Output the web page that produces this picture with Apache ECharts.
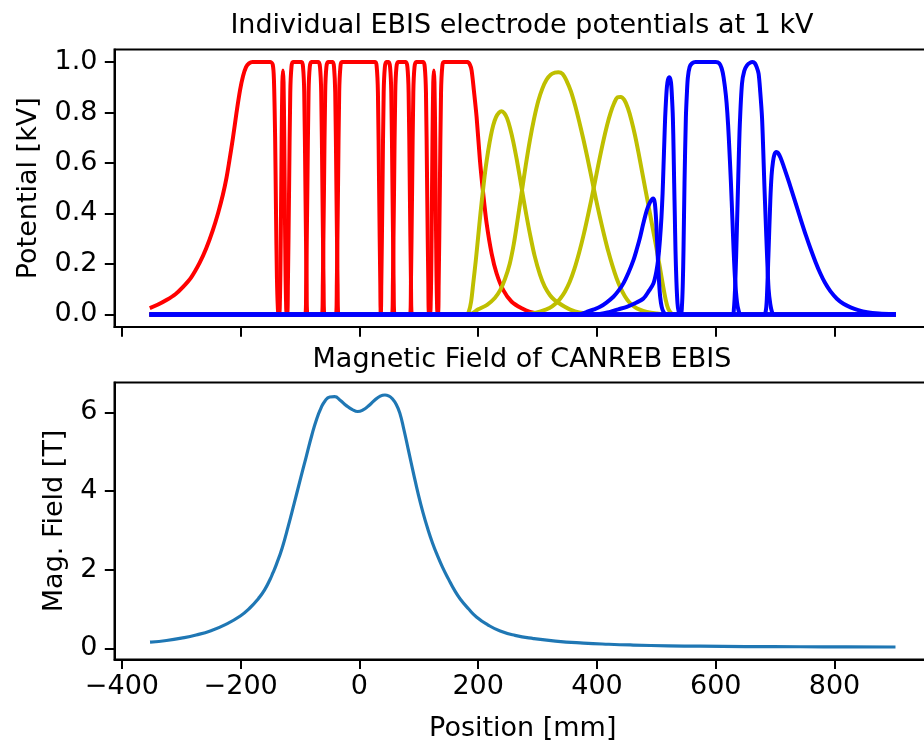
<!DOCTYPE html>
<html>
<head>
<meta charset="utf-8">
<script src="https://cdn.jsdelivr.net/npm/echarts@6/dist/echarts.min.js"></script>
<style>
html, body { margin: 0; padding: 0; background: #fff; }
#chart { width: 924px; height: 747px; }
</style>
</head>
<body>
<div id="chart"></div>
<script>
// electrode potentials: [position mm, potential kV]
var red1 = [[-350,0.028],[-340,0.038],[-325,0.057],[-310,0.08],[-297,0.109],[-283,0.148],[-269,0.205],[-258,0.262],[-247,0.333],[-238,0.402],[-230,0.474],[-224,0.54],[-219,0.61],[-213,0.7],[-207,0.8],[-201,0.89],[-196,0.945],[-191,0.98],[-186,0.995],[-180,1],[-150,1],[-146,0.99],[-144,0.93],[-142,0.7],[-140.5,0.4],[-139,0.15],[-137.5,0.03],[-136,0],[900,0]];
var red2 = [[-350,0],[-136,0],[-134,0.05],[-132.5,0.3],[-131,0.7],[-129.8,0.92],[-128.8,0.967],[-127.8,0.92],[-126.6,0.7],[-125.1,0.3],[-123.6,0.05],[-121.6,0],[900,0]];
var red3 = [[-350,0],[-122,0],[-120.5,0.12],[-118.5,0.5],[-116.5,0.88],[-114.5,0.98],[-112,1],[-97.5,1],[-95,0.98],[-93,0.88],[-91,0.5],[-89,0.12],[-87.5,0],[900,0]];
var red4 = [[-350,0],[-91.2,0],[-89.7,0.12],[-87.7,0.5],[-85.7,0.88],[-83.7,0.98],[-81,1],[-69,1],[-66.4,0.98],[-64.4,0.88],[-62.4,0.5],[-60.4,0.12],[-58.9,0],[900,0]];
var red5 = [[-350,0],[-63.2,0],[-61.7,0.12],[-59.7,0.5],[-57.7,0.88],[-55.7,0.98],[-53,1],[-45,1],[-42.8,0.98],[-40.8,0.88],[-38.8,0.5],[-36.8,0.12],[-35.3,0],[900,0]];
var red6 = [[-350,0],[-39.6,0],[-38.1,0.12],[-36.1,0.5],[-34.1,0.88],[-32.1,0.98],[-29.5,1],[26.5,1],[29.1,0.98],[31.1,0.88],[33.1,0.5],[35.1,0.12],[36.6,0],[900,0]];
var red7 = [[-350,0],[35.3,0],[36.8,0.12],[38.8,0.5],[40.8,0.88],[42.8,0.98],[45.2,1],[49.2,1],[51.6,0.98],[53.6,0.88],[55.6,0.5],[57.6,0.12],[59.1,0],[900,0]];
var red8 = [[-350,0],[54.8,0],[56.3,0.12],[58.3,0.5],[60.3,0.88],[62.3,0.98],[65,1],[78,1],[80.8,0.98],[82.8,0.88],[84.8,0.5],[86.8,0.12],[88.3,0],[900,0]];
var red9 = [[-350,0],[85.2,0],[86.7,0.12],[88.7,0.5],[90.7,0.88],[92.7,0.98],[95.5,1],[107.5,1],[110,0.98],[112,0.88],[114,0.5],[116,0.12],[117.5,0],[900,0]];
var red10 = [[-350,0],[118,0],[120,0.05],[121.5,0.3],[123,0.7],[124.3,0.92],[125.3,0.967],[126.3,0.92],[127.6,0.7],[129.1,0.3],[130.6,0.05],[132.6,0],[900,0]];
var red11 = [[-350,0],[131.9,0],[133.4,0.12],[135.4,0.5],[137.4,0.88],[139.4,0.98],[142,1],[182,1],[186,0.99],[188.9,0.967],[192.7,0.888],[197.3,0.782],[202.9,0.611],[208.4,0.479],[214.2,0.36],[222.6,0.241],[231,0.162],[242.2,0.096],[256.3,0.05],[273.2,0.024],[287.2,0.01],[305,0.002],[320,0],[900,0]];

var yel1 = [[-350,0],[180,0],[184,0.01],[188,0.05],[191.6,0.123],[196,0.215],[200,0.31],[204,0.405],[208.4,0.5],[212.5,0.58],[216.9,0.65],[221,0.705],[225.3,0.75],[230,0.782],[235,0.8],[239.5,0.805],[244,0.797],[248.5,0.778],[253.5,0.74],[259,0.685],[264.8,0.615],[270,0.545],[275,0.475],[281,0.395],[287.2,0.318],[295,0.232],[304,0.158],[312,0.11],[320.9,0.076],[328,0.058],[335,0.046],[345,0.031],[355,0.019],[370,0.008],[390,0.002],[400,0],[900,0]];
var yel2 = [[-350,0],[185,0],[200,0.02],[215,0.038],[228,0.065],[237,0.096],[245,0.14],[253,0.2],[260,0.28],[266,0.37],[273,0.48],[280,0.59],[287,0.69],[294,0.775],[301,0.845],[308,0.895],[315,0.93],[322,0.95],[329,0.958],[335,0.96],[342,0.953],[349,0.925],[356,0.885],[363,0.83],[370,0.765],[377,0.695],[384,0.62],[391,0.54],[398,0.46],[405,0.385],[412,0.315],[419,0.25],[426,0.193],[433,0.143],[440,0.103],[447,0.072],[454,0.049],[462,0.032],[472,0.019],[484,0.01],[500,0.004],[520,0],[900,0]];
var yel3 = [[-350,0],[270,0],[290,0.004],[305,0.012],[320,0.025],[330,0.042],[338,0.062],[346,0.09],[354,0.128],[362,0.18],[370,0.245],[378,0.32],[386,0.405],[394,0.495],[402,0.59],[410,0.68],[417,0.75],[423,0.8],[429,0.838],[434.4,0.86],[440,0.862],[446,0.85],[452,0.818],[458,0.77],[464,0.71],[470,0.64],[476,0.565],[482,0.49],[488,0.415],[494,0.34],[500,0.265],[506,0.185],[511.5,0.11],[516,0.055],[520,0.022],[525,0.005],[530,0],[900,0]];

var blue1 = [[-350,0],[370,0],[382.8,0.01],[395,0.02],[405.2,0.03],[416,0.047],[427.7,0.07],[436,0.093],[444.5,0.123],[453,0.165],[461.4,0.215],[467,0.258],[472.7,0.307],[478,0.36],[484,0.413],[489,0.443],[493,0.457],[495.1,0.459],[497.5,0.44],[499.7,0.37],[502.5,0.22],[504.5,0.13],[506.4,0.07],[509,0.03],[512,0.01],[516,0],[900,0]];
var blue2 = [[-350,0],[400,0],[422,0.01],[436,0.02],[450.3,0.03],[465,0.045],[478.2,0.063],[488,0.095],[495.1,0.123],[500,0.17],[503.5,0.228],[506.2,0.3],[508.6,0.386],[510.5,0.48],[512,0.584],[513.5,0.69],[514.8,0.78],[516.3,0.85],[517.7,0.9],[519.5,0.93],[522.1,0.94],[524.6,0.92],[526.3,0.86],[527.8,0.78],[529,0.65],[530,0.52],[531.1,0.39],[532.2,0.255],[533.8,0.13],[535.6,0.044],[537.5,0.012],[540,0],[900,0]];
var blue3 = [[-350,0],[541,0],[543,0.03],[544.5,0.12],[545.7,0.255],[547.4,0.52],[549.7,0.78],[551.5,0.88],[553.1,0.94],[556,0.98],[560,0.995],[566,1],[600,1],[606,0.995],[610,0.975],[613.2,0.94],[617,0.87],[619.5,0.8],[622,0.7],[625.6,0.52],[628,0.38],[630,0.26],[632.5,0.14],[635.7,0.05],[638.5,0.015],[642,0],[900,0]];
var blue4 = [[-350,0],[628,0],[630.5,0.02],[632.9,0.123],[635.5,0.33],[638,0.55],[640.5,0.75],[644.2,0.915],[648,0.965],[652.6,0.987],[658.2,0.998],[662,1],[666,0.995],[669,0.98],[672.2,0.954],[675,0.88],[677.9,0.782],[680,0.65],[681.8,0.519],[684,0.38],[686.3,0.24],[689,0.1],[691.9,0.04],[694.7,0.01],[698,0],[900,0]];
var blue5 = [[-350,0],[681,0],[684,0.01],[686,0.06],[689,0.255],[691.9,0.452],[694,0.55],[696.4,0.605],[699,0.635],[702,0.644],[705,0.64],[709,0.622],[714,0.59],[720,0.548],[728,0.49],[736,0.43],[744,0.37],[752,0.312],[760,0.258],[768,0.208],[776,0.163],[784,0.125],[793,0.092],[804,0.062],[815,0.042],[827,0.028],[840,0.017],[855,0.009],[875,0.004],[900,0.001]];

// magnetic field on axis
var magX = [-350,-325,-300,-275,-250,-225,-200,-185,-170,-160,-150,-146,-140,-130,-120,-110,-100,-90,-80,-72,-65,-58,-50,-42,-32,-22,-12,-3,6,15,25,35,43,50,55,62,68,75,83,91,99,107,115,123,131,140,150,160,170,184,197,216,237,262,293,330,377,420,461,520,574,650,742,820,900];
var magB = [0.16,0.2,0.26,0.34,0.45,0.61,0.83,1.02,1.27,1.48,1.77,1.91,2.13,2.56,3.1,3.68,4.27,4.85,5.43,5.83,6.1,6.29,6.39,6.4,6.3,6.17,6.07,6.02,6.06,6.16,6.3,6.41,6.44,6.41,6.35,6.2,5.98,5.55,5.0,4.45,3.92,3.45,3.04,2.68,2.37,2.06,1.76,1.48,1.25,1.0,0.8,0.6,0.44,0.33,0.25,0.185,0.135,0.105,0.085,0.065,0.055,0.047,0.041,0.037,0.035];

var ticksX = [-400, -200, 0, 200, 400, 600, 800];
var ticksV = [0, 0.2, 0.4, 0.6, 0.8, 1.0];
var ticksB = [0, 2, 4, 6];

var FONT = 'DejaVu Sans';
var txt = {fontFamily: FONT, fontSize: 27, color: '#000'};

var chart = echarts.init(document.getElementById('chart'));

var groups = [
    {color: '#ff0000', curves: [red1, red2, red3, red4, red5, red6, red7, red8, red9, red10, red11]},
    {color: '#bfbf00', curves: [yel1, yel2, yel3]},
    {color: '#0000ff', curves: [blue1, blue2, blue3, blue4, blue5]}
];

var series = [];
groups.forEach(function (g) {
    g.curves.forEach(function (c) {
        series.push({
            type: 'line', xAxisIndex: 0, yAxisIndex: 0,
            data: c, showSymbol: false, symbol: 'none', smooth: 0.3,
            lineStyle: {color: g.color, width: 4, cap: 'square', join: 'round'}
        });
    });
});
series.push({
    type: 'line', xAxisIndex: 1, yAxisIndex: 1,
    data: magX.map(function (x, i) { return [x, magB[i]]; }),
    showSymbol: false, symbol: 'none', smooth: 0.5,
    lineStyle: {color: '#1f77b4', width: 3.2, cap: 'square', join: 'round'}
});

function minus(v) { return v < 0 ? '\u2212' + Math.abs(v) : String(v); }

var tick = {show: true, length: 9.7, lineStyle: {color: '#000', width: 2}};
var line = {show: true, onZero: false, lineStyle: {color: '#000', width: 2}};

option = {
    animation: false,
    backgroundColor: '#fff',
    grid: [
        {left: 114.5, top: 49.5, width: 816.5, height: 277.5, show: true, borderColor: '#000', borderWidth: 2, outerBoundsMode: 'none'},
        {left: 114.5, top: 382.4, width: 816.5, height: 277, show: true, borderColor: '#000', borderWidth: 2, outerBoundsMode: 'none'}
    ],
    xAxis: [
        {gridIndex: 0, type: 'value', min: -412.5, max: 962.5, axisLine: line,
         axisTick: Object.assign({customValues: ticksX}, tick), axisLabel: {show: false}, splitLine: {show: false}},
        {gridIndex: 1, type: 'value', min: -412.5, max: 962.5, axisLine: line,
         axisTick: Object.assign({customValues: ticksX}, tick),
         axisLabel: Object.assign({customValues: ticksX, margin: 14, formatter: minus}, txt),
         splitLine: {show: false},
         name: 'Position [mm]', nameLocation: 'middle', nameGap: 56, nameTextStyle: txt}
    ],
    yAxis: [
        {gridIndex: 0, type: 'value', min: -0.05, max: 1.05, axisLine: line,
         axisTick: Object.assign({customValues: ticksV}, tick),
         axisLabel: Object.assign({customValues: ticksV, margin: 17, formatter: function (v) { return v.toFixed(1); }}, txt),
         splitLine: {show: false},
         name: 'Potential [kV]', nameLocation: 'middle', nameGap: 72, nameTextStyle: txt},
        {gridIndex: 1, type: 'value', min: -0.28, max: 6.76, axisLine: line,
         axisTick: Object.assign({customValues: ticksB}, tick),
         axisLabel: Object.assign({customValues: ticksB, margin: 17}, txt),
         splitLine: {show: false},
         name: 'Mag. Field [T]', nameLocation: 'middle', nameGap: 46, nameTextStyle: txt}
    ],
    graphic: [
        {type: 'text', x: 522, y: 26, style: {text: 'Individual EBIS electrode potentials at 1 kV', font: '27px "DejaVu Sans"', fill: '#000', align: 'center', verticalAlign: 'middle'}},
        {type: 'text', x: 522, y: 360, style: {text: 'Magnetic Field of CANREB EBIS', font: '27px "DejaVu Sans"', fill: '#000', align: 'center', verticalAlign: 'middle'}}
    ],
    series: series
};

chart.setOption(option);
</script>
</body>
</html>
